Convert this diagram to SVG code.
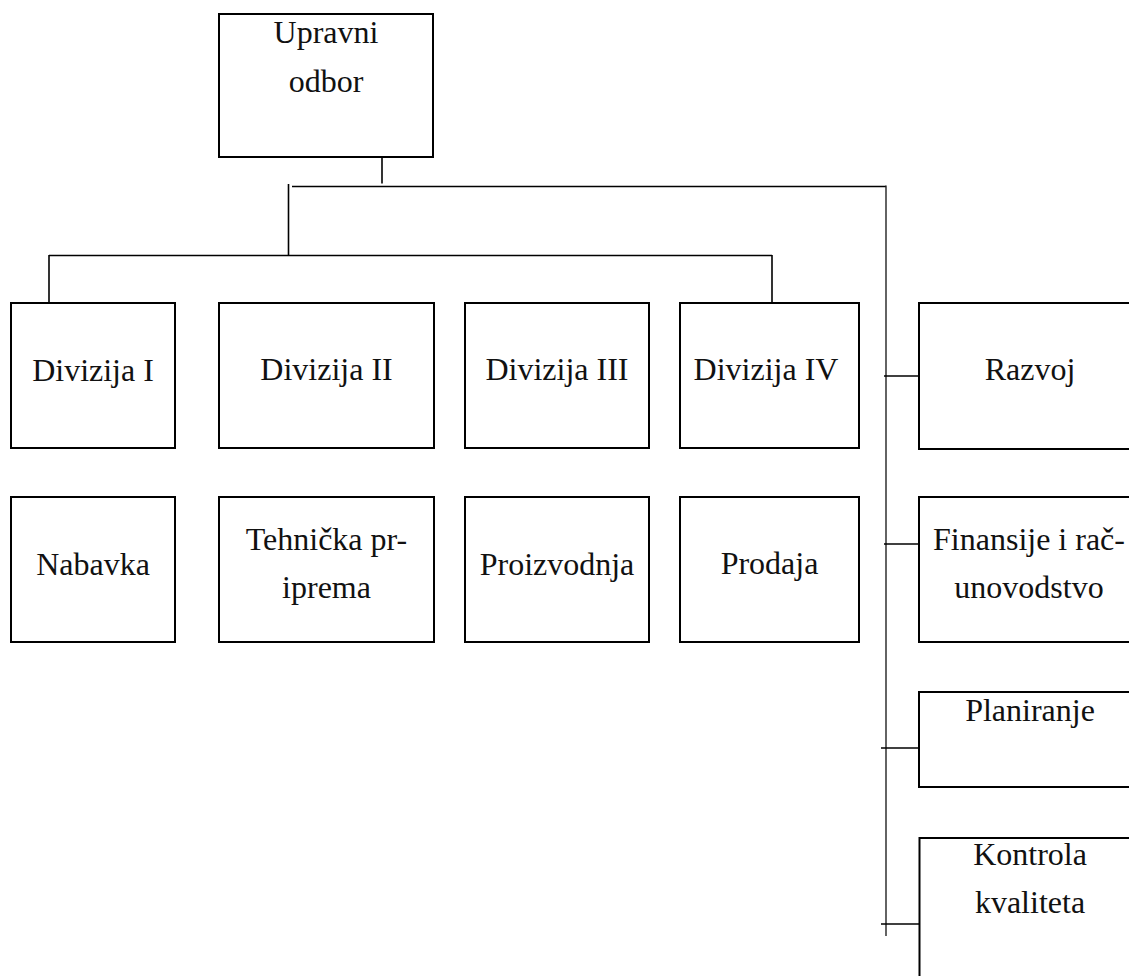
<svg xmlns="http://www.w3.org/2000/svg" width="1129" height="976" viewBox="0 0 1129 976">
  <style>
    .box { fill: #ffffff; stroke: #000000; stroke-width: 2; }
    .lbl { font-family: "Liberation Serif", "Times New Roman", serif; font-size: 32px; fill: #111111; text-anchor: middle; }
    .con { stroke: #000000; stroke-width: 1.6; fill: none; }
    .spine { stroke: #222222; stroke-width: 1.4; fill: none; }
  </style>
  <rect width="1129" height="976" fill="#ffffff"/>

  <!-- connectors -->
  <g id="connectors">
    <line class="con" x1="382" y1="153" x2="382" y2="183.5"/>
    <line class="con" x1="292" y1="186.5" x2="886" y2="186.5"/>
    <line class="con" x1="288.5" y1="184" x2="288.5" y2="256"/>
    <line class="con" x1="49" y1="255.5" x2="772" y2="255.5"/>
    <line class="con" x1="49" y1="255" x2="49" y2="303"/>
    <line class="con" x1="772" y1="255" x2="772" y2="303"/>
    <line class="spine" x1="886" y1="185.5" x2="886" y2="936"/>
    <line class="con" x1="884" y1="376" x2="923" y2="376"/>
    <line class="con" x1="884" y1="544" x2="922" y2="544"/>
    <line class="con" x1="881" y1="748" x2="920" y2="748"/>
    <line class="con" x1="881" y1="924" x2="920" y2="924"/>
  </g>

  <!-- board -->
  <g id="upravni-odbor">
    <rect class="box" x="219" y="14" width="214" height="143"/>
    <text class="lbl" x="326" y="43">Upravni</text>
    <text class="lbl" x="326" y="92">odbor</text>
  </g>

  <!-- divisions -->
  <g id="divizija-1">
    <rect class="box" x="11" y="303" width="164" height="145"/>
    <text class="lbl" x="93" y="381">Divizija I</text>
  </g>
  <g id="divizija-2">
    <rect class="box" x="219" y="303" width="215" height="145"/>
    <text class="lbl" x="326.5" y="380">Divizija II</text>
  </g>
  <g id="divizija-3">
    <rect class="box" x="465" y="303" width="184" height="145"/>
    <text class="lbl" x="557" y="380">Divizija III</text>
  </g>
  <g id="divizija-4">
    <rect class="box" x="680" y="303" width="179" height="145"/>
    <text class="lbl" x="766" y="380">Divizija IV</text>
  </g>

  <!-- functions under divisions -->
  <g id="nabavka">
    <rect class="box" x="11" y="497" width="164" height="145"/>
    <text class="lbl" x="93" y="575">Nabavka</text>
  </g>
  <g id="tehnicka-priprema">
    <rect class="box" x="219" y="497" width="215" height="145"/>
    <text class="lbl" x="326.5" y="550">Tehnička pr-</text>
    <text class="lbl" x="326.5" y="598">iprema</text>
  </g>
  <g id="proizvodnja">
    <rect class="box" x="465" y="497" width="184" height="145"/>
    <text class="lbl" x="557" y="575">Proizvodnja</text>
  </g>
  <g id="prodaja">
    <rect class="box" x="680" y="497" width="179" height="145"/>
    <text class="lbl" x="769.5" y="574">Prodaja</text>
  </g>

  <!-- staff units -->
  <g id="razvoj">
    <rect class="box" x="919" y="303" width="222" height="146"/>
    <text class="lbl" x="1030" y="380">Razvoj</text>
  </g>
  <g id="finansije">
    <rect class="box" x="919" y="497" width="222" height="145"/>
    <text class="lbl" x="1029" y="550">Finansije i rač-</text>
    <text class="lbl" x="1029" y="598">unovodstvo</text>
  </g>
  <g id="planiranje">
    <rect class="box" x="919" y="692" width="222" height="95"/>
    <text class="lbl" x="1030" y="721">Planiranje</text>
  </g>
  <g id="kontrola-kvaliteta">
    <rect class="box" x="919.5" y="838" width="222" height="160"/>
    <text class="lbl" x="1030" y="865">Kontrola</text>
    <text class="lbl" x="1030" y="913">kvaliteta</text>
  </g>
</svg>
